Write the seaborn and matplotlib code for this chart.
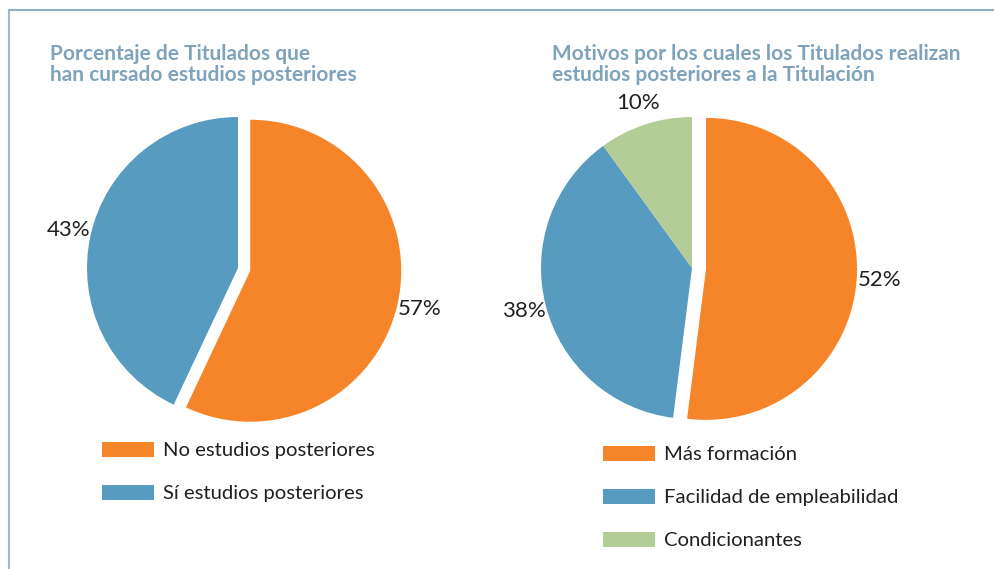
import matplotlib
matplotlib.use('Agg')
import matplotlib.pyplot as plt
import seaborn as sns
from matplotlib.patches import Patch
from matplotlib.lines import Line2D

sns.set_theme(style='white')
plt.rcParams['font.family'] = ['Lato', 'DejaVu Sans']

# ------------------------------------------------------------
# Data
# ------------------------------------------------------------
title_left = 'Porcentaje de Titulados que\nhan cursado estudios posteriores'
labels_left = ['No estudios posteriores', 'Sí estudios posteriores']
values_left = [57, 43]

title_right = 'Motivos por los cuales los Titulados realizan\nestudios posteriores a la Titulación'
labels_right = ['Más formación', 'Facilidad de empleabilidad', 'Condicionantes']
values_right = [52, 38, 10]

colors = ['#f6852a', '#579cc0', '#b4cd97']
title_color = '#7ea3bb'
text_color = '#231f20'

W, H = 995, 569
fig = plt.figure(figsize=(W / 100, H / 100), dpi=100)

R = 151  # pie radius in px
LIM = 1.35


def pie_axes(cx, cy):
    size = 2 * LIM * R
    return fig.add_axes([(cx - size / 2) / W, (H - cy - size / 2) / H, size / W, size / H])


def draw_pie(ax, values, explode):
    ax.pie(values, colors=colors[:len(values)], startangle=90, counterclock=False,
           explode=explode, autopct='%d%%', pctdistance=1.15,
           wedgeprops=dict(linewidth=0), textprops=dict(color=text_color, fontsize=16))
    ax.set_xlim(-LIM, LIM)
    ax.set_ylim(-LIM, LIM)
    ax.set_aspect('equal')
    ax.axis('off')


ax1 = pie_axes(238, 268)
draw_pie(ax1, values_left, [0.083, 0])
ax2 = pie_axes(692, 268)
draw_pie(ax2, values_right, [0.093, 0, 0])

# titles
fig.text(50 / W, 1 - 44 / H, title_left, ha='left', va='top', fontsize=15,
         fontweight='bold', color=title_color, linespacing=1.08)
fig.text(552 / W, 1 - 44 / H, title_right, ha='left', va='top', fontsize=15,
         fontweight='bold', color=title_color, linespacing=1.08)

# legends
def add_legend(labels, x, y_top):
    handles = [Patch(facecolor=c, edgecolor='none') for c in colors[:len(labels)]]
    fig.legend(handles, labels, loc='upper left', bbox_to_anchor=(x / W, 1 - y_top / H),
               frameon=False, fontsize=14.6, handlelength=2.55, handleheight=0.75,
               handletextpad=0.45, labelspacing=1.25, borderaxespad=0, borderpad=0,
               labelcolor=text_color)


add_legend(labels_left, 102, 442)
add_legend(labels_right, 603, 446)

# frame lines (left and top)
fig.add_artist(Line2D([8.5 / W, 8.5 / W], [0, 1 - 10 / H], color='#9fbacb', linewidth=1.5))
fig.add_artist(Line2D([8.5 / W, 1], [1 - 10 / H, 1 - 10 / H], color='#8fb0c4', linewidth=1.5))

fig.savefig('out.png', dpi=100)
